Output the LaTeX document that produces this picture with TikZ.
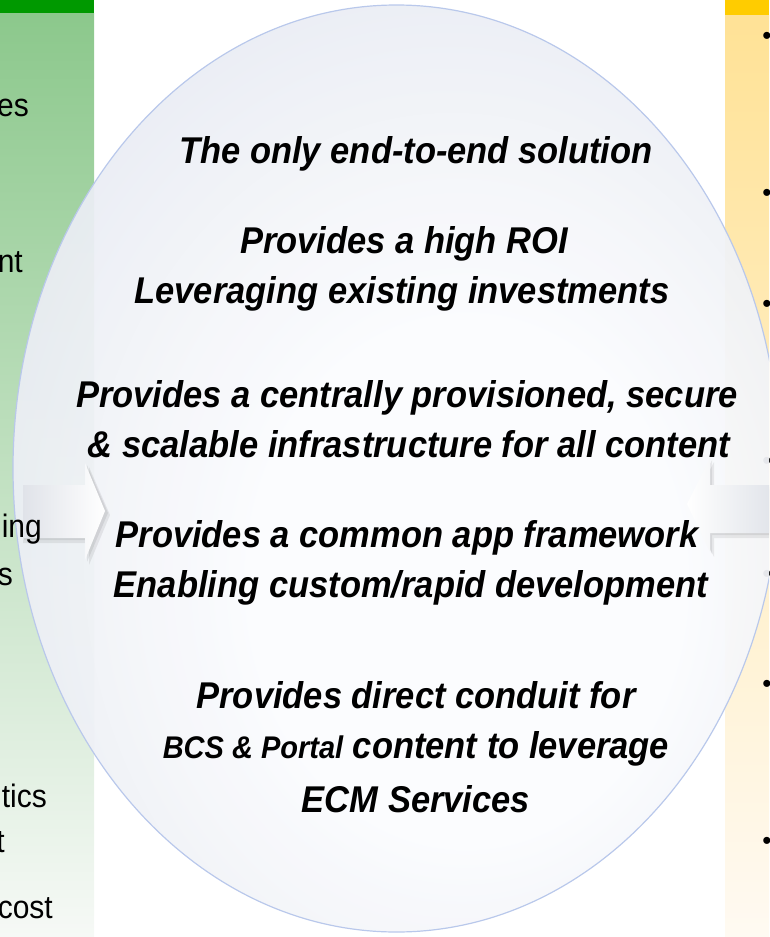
\documentclass[tikz,border=0pt]{standalone}
\usepackage{fontspec}
\setmainfont{Liberation Sans}
\usetikzlibrary{shapes.geometric}
\definecolor{dkgreen}{RGB}{0,153,0}
\definecolor{greentop}{RGB}{140,200,140}
\definecolor{greenbot}{RGB}{246,249,246}
\definecolor{gold}{RGB}{255,204,0}
\definecolor{goldtop}{RGB}{255,226,150}
\definecolor{goldbot}{RGB}{255,250,242}
\definecolor{discin}{RGB}{251,252,254}
\definecolor{discmid}{RGB}{230,233,241}
\definecolor{discout}{RGB}{190,198,217}
\definecolor{rim}{RGB}{185,200,235}
\definecolor{arrtail}{RGB}{224,227,233}
\pgfdeclareradialshading{discshade}{\pgfpoint{6bp}{-8bp}}{color(0bp)=(discin); color(14bp)=(discin); color(34bp)=(discmid); color(50bp)=(discout); color(60bp)=(discout)}
\newcommand{\tall}[1]{\scalebox{1}[1.08]{#1}}

\begin{document}
\begin{tikzpicture}[x=1pt,y=-1pt,
    msg/.style={font=\fontsize{34.5}{40}\selectfont\bfseries\itshape,anchor=base,inner sep=0pt},
    frag/.style={font=\fontsize{30}{36}\selectfont,anchor=base east,inner sep=0pt},
    bul/.style={font=\fontsize{26}{30}\selectfont,anchor=base,inner sep=0pt},
    halo/.style={black,opacity=.07}]
    \useasboundingbox (0,0) rectangle (769,937);
    \clip (0,0) rectangle (769,937);
    \shade[top color=greentop,bottom color=greenbot] (0,13) rectangle (94,937);
    \fill[dkgreen] (0,0) rectangle (94,13);
    \shade[top color=goldtop,bottom color=goldbot] (725,15) rectangle (769,937);
    \fill[gold] (725,0) rectangle (769,15);
    \foreach \y [count=\i] in {44,201,312,469,582,692,849}
        \node[bul] (b_\i) at (767,\y) {\textbullet};
    \node[ellipse,minimum width=767pt,minimum height=927pt,inner sep=0pt,
        shade,shading=discshade,fill opacity=.94,draw=rim,line width=1.2pt] (disc) at (396.5,468.5) {};
    \fill[halo] (23,489) -- (89,489) -- (89,467) -- (110,515) -- (89,565) -- (89,543) -- (23,543) -- cycle;
    \fill[halo] (24,487) -- (87,487) -- (87,465) -- (108,513) -- (87,562) -- (87,540) -- (24,540) -- cycle;
    \shade[left color=arrtail,right color=white] (23,485) -- (85,485) -- (85,463) -- (105,511) -- (85,560) -- (85,538) -- (23,538) -- cycle;
    \fill[halo] (775,489) -- (714,489) -- (714,462) -- (690,508) -- (714,557) -- (714,538) -- (775,538) -- cycle;
    \fill[halo] (775,487) -- (712,487) -- (712,460) -- (689,506) -- (712,554) -- (712,535) -- (775,535) -- cycle;
    \shade[left color=white,right color=arrtail] (775,485) -- (710,485) -- (710,458) -- (687,504) -- (710,552) -- (710,533) -- (775,533) -- cycle;
    \node[msg] (l_1) at (416,163) {\tall{The only end-to-end solution}};
    \node[msg] (l_2) at (404,253) {\tall{Provides a high ROI}};
    \node[msg] (l_3) at (402,303) {\tall{Leveraging existing investments}};
    \node[msg] (l_4) at (407,407) {\tall{Provides a centrally provisioned, secure}};
    \node[msg] (l_5) at (409,457) {\tall{\& scalable infrastructure for all content}};
    \node[msg] (l_6) at (407,547) {\tall{Provides a common app framework}};
    \node[msg] (l_7) at (411,597) {\tall{Enabling custom/rapid development}};
    \node[msg] (l_8) at (416,708) {\tall{Provides direct conduit for}};
    \node[msg] (l_9) at (416,758) {\tall{{\fontsize{29}{34}\selectfont BCS \& Portal} content to leverage}};
    \node[msg] (l_10) at (416,812) {\tall{ECM Services}};
    \node[frag] (f_1) at (29,116) {\tall{es}};
    \node[frag] (f_2) at (23,272) {\tall{nt}};
    \node[frag] (f_3) at (42,537) {\tall{ing}};
    \node[frag] (f_4) at (13,585) {\tall{s}};
    \node[frag] (f_5) at (47,807) {\tall{tics}};
    \node[frag] (f_6) at (5,852) {\tall{t}};
    \node[frag] (f_7) at (53,918) {\tall{cost}};
\end{tikzpicture}
\end{document}
